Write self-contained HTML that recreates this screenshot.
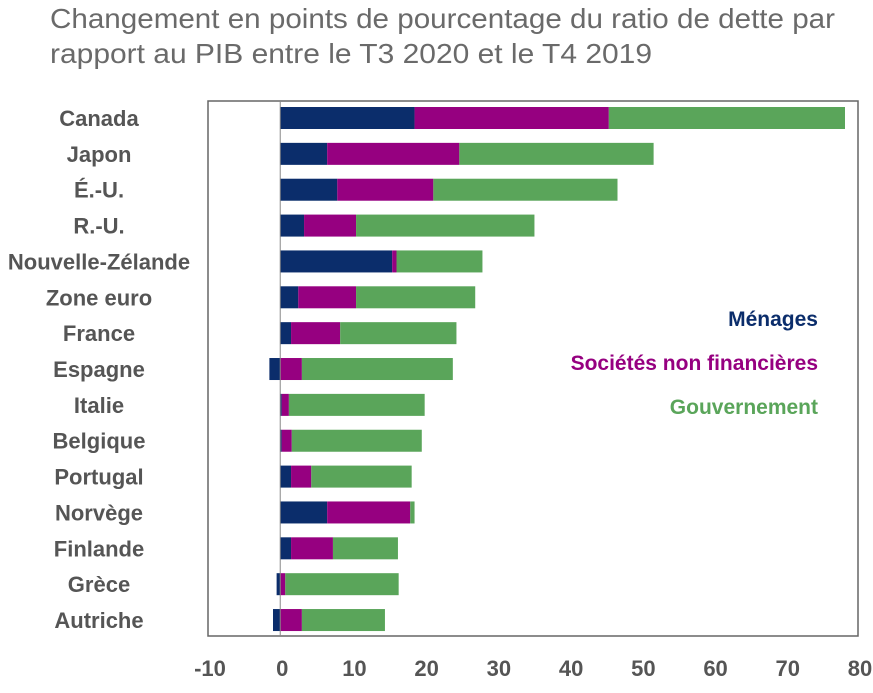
<!DOCTYPE html>
<html><head><meta charset="utf-8"><style>
body{margin:0;background:#fff;font-family:"Liberation Sans",sans-serif;}
</style></head><body>
<svg width="873" height="688" xmlns="http://www.w3.org/2000/svg">
<text x="50" y="28" font-size="28" fill="#6a6a6a" textLength="785" lengthAdjust="spacingAndGlyphs">Changement en points de pourcentage du ratio de dette par</text>
<text x="50" y="63" font-size="28" fill="#6a6a6a" textLength="602" lengthAdjust="spacingAndGlyphs">rapport au PIB entre le T3 2020 et le T4 2019</text>
<rect x="208" y="101" width="650" height="535" fill="none" stroke="#666" stroke-width="1.5"/>
<g id="bars"></g>
<g id="labels"></g>
<g id="ticks"></g>
<text x="818" y="326" font-size="21" font-weight="bold" fill="#0b2d6b" text-anchor="end">Ménages</text>
<text x="818" y="370" font-size="21" font-weight="bold" fill="#960080" text-anchor="end">Sociétés non financières</text>
<text x="818" y="414" font-size="21" font-weight="bold" fill="#5aa55a" text-anchor="end">Gouvernement</text>
</svg>
<script>
const categories=["Canada","Japon","É.-U.","R.-U.","Nouvelle-Zélande","Zone euro","France","Espagne","Italie","Belgique","Portugal","Norvège","Finlande","Grèce","Autriche"];
const menages=[18.6,6.5,7.9,3.3,15.5,2.5,1.5,-1.5,0.2,0.2,1.5,6.5,1.5,-0.5,-1.0];
const societes=[26.9,18.3,13.3,7.2,0.6,8.0,6.8,3.0,1.0,1.4,2.8,11.5,5.8,0.7,3.0];
const gouvernement=[32.7,26.9,25.5,24.7,11.9,16.5,16.1,20.9,18.8,18.0,13.9,0.6,9.0,15.7,11.5];
const tickValues=[-10,0,10,20,30,40,50,60,70,80];
const NS="http://www.w3.org/2000/svg";
const xs=v=>208+(v+10)*650/90;
const ys=i=>118+i*35.86;
const bars=document.getElementById('bars'),labels=document.getElementById('labels'),ticks=document.getElementById('ticks');
function rect(x0,x1,y,c,name){const r=document.createElementNS(NS,'rect');
r.setAttribute('x',Math.min(xs(x0),xs(x1)));r.setAttribute('width',Math.abs(xs(x1)-xs(x0)));
r.setAttribute('y',y-11);r.setAttribute('height',22);r.setAttribute('fill',c);


bars.appendChild(r);}
categories.forEach((c,i)=>{const y=ys(i);let pos=0,neg=0;
[[menages[i],'#0b2d6b','bar-menages'],[societes[i],'#960080','bar-societes'],[gouvernement[i],'#5aa55a','bar-gouvernement']].forEach(([v,col,n])=>{
if(v>=0){rect(pos,pos+v,y,col,n);pos+=v;}else{rect(neg,neg+v,y,col,n);neg+=v;}});
const t=document.createElementNS(NS,'text');t.setAttribute('x',99);t.setAttribute('y',y+8);
t.setAttribute('text-anchor','middle');t.setAttribute('font-size','22');t.setAttribute('font-weight','bold');t.setAttribute('fill','#555');
t.textContent=c;


labels.appendChild(t);});
const z=document.createElementNS(NS,'line');z.setAttribute('x1',xs(0));z.setAttribute('x2',xs(0));z.setAttribute('y1',101);z.setAttribute('y2',636);z.setAttribute('stroke','#888');


ticks.appendChild(z);
tickValues.forEach(v=>{const t=document.createElementNS(NS,'text');t.setAttribute('x',xs(v)+2);t.setAttribute('y',676);
t.setAttribute('text-anchor','middle');t.setAttribute('font-size','22');t.setAttribute('font-weight','bold');t.setAttribute('fill','#555');
t.textContent=v;


ticks.appendChild(t);});
</script>
</body></html>
